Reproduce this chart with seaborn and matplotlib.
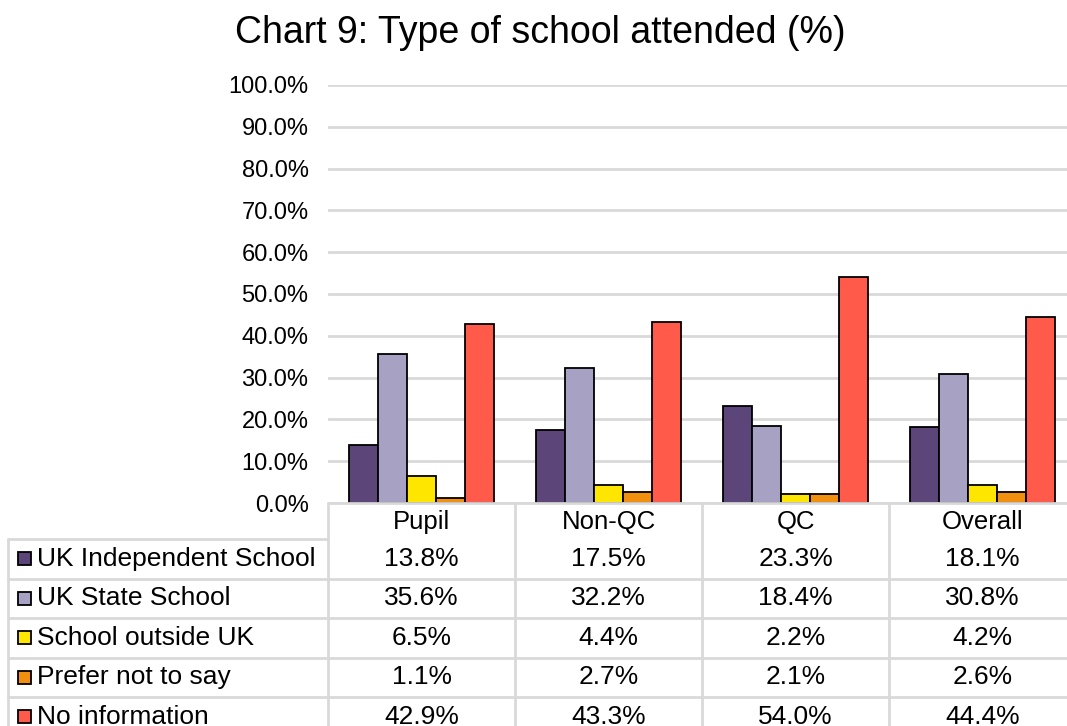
import numpy as np
import pandas as pd
import seaborn as sns
import matplotlib.pyplot as plt
import matplotlib.transforms as mtransforms
from matplotlib.lines import Line2D
from matplotlib.patches import Rectangle
from matplotlib.ticker import PercentFormatter

# Chart data (values in %)
groups = ['Pupil', 'Non-QC', 'QC', 'Overall']
series = ['UK Independent School', 'UK State School', 'School outside UK',
          'Prefer not to say', 'No information']
independent = [13.8, 17.5, 23.3, 18.1]
state = [35.6, 32.2, 18.4, 30.8]
outside_uk = [6.5, 4.4, 2.2, 4.2]
prefer_not = [1.1, 2.7, 2.1, 2.6]
no_info = [42.9, 43.3, 54.0, 44.4]
colors = ['#5B4579', '#A7A1C4', '#FFE600', '#F0900E', '#FF5A4A']

values = [independent, state, outside_uk, prefer_not, no_info]
df = pd.DataFrame([
    {'group': g, 'series': s, 'value': v[i] / 100}
    for s, v in zip(series, values)
    for i, g in enumerate(groups)
])

sns.set_theme(style='white')
plt.rcParams['font.family'] = ['Liberation Sans', 'DejaVu Sans']

W, H = 1067, 726
fig = plt.figure(figsize=(W / 100, H / 100), dpi=100)
ax_left, ax_bottom, ax_top, ax_right = 328, 503, 85, 1076
ax = fig.add_axes([ax_left / W, 1 - ax_bottom / H,
                   (ax_right - ax_left) / W, (ax_bottom - ax_top) / H])

sns.barplot(data=df, x='group', y='value', hue='series', palette=colors,
            saturation=1, width=0.78, edgecolor='black', linewidth=1.3,
            ax=ax, legend=False)

ax.set_xlim(-0.5, len(groups) - 0.5)
ax.set_ylim(0, 1.0)
ax.set_yticks(np.arange(0, 1.01, 0.1))
ax.yaxis.set_major_formatter(PercentFormatter(1.0, decimals=1))
ax.tick_params(axis='y', length=0, pad=14, labelsize=17, labelcolor='black')
ax.tick_params(axis='x', length=0, pad=5, labelsize=18.5, labelcolor='black')
ax.set_xlabel('')
ax.set_ylabel('')
ax.yaxis.grid(True, color='#D9D9D9', linewidth=2)
ax.set_axisbelow(True)
for sp in ax.spines.values():
    sp.set_visible(False)

fig.text(540 / W, 1 - 33 / H, 'Chart 9: Type of school attended (%)',
         ha='center', va='center', fontsize=27, color='black')

# Data table below the chart
line_kw = dict(color='#D9D9D9', linewidth=2)
blend = mtransforms.blended_transform_factory(ax.transData, fig.transFigure)
for xb in np.arange(-0.5, len(groups), 1.0):
    fig.add_artist(Line2D([xb, xb], [1 - ax_bottom / H, 0], transform=blend, **line_kw))
fig.add_artist(Line2D([ax_left / W, 1], [1 - ax_bottom / H] * 2, **line_kw))

row_tops = [539, 578.5, 618, 657.5, 697]
row_h = 39.3
label_left = 8
fig.add_artist(Line2D([label_left / W] * 2, [1 - row_tops[0] / H, 0], **line_kw))
fig.add_artist(Line2D([label_left / W, ax_left / W], [1 - row_tops[0] / H] * 2, **line_kw))
for i, (name, vals, col) in enumerate(zip(series, values, colors)):
    top = row_tops[i]
    yc = 1 - (top + row_h / 2) / H
    if i > 0:
        fig.add_artist(Line2D([label_left / W, 1], [1 - top / H] * 2, **line_kw))
    fig.add_artist(Rectangle((18 / W, yc - 6.5 / H), 13 / W, 13 / H,
                             facecolor=col, edgecolor='black', linewidth=1.3,
                             transform=fig.transFigure))
    fig.text(37 / W, yc, name, ha='left', va='center', fontsize=19, color='black')
    for j, v in enumerate(vals):
        fig.text(j, yc, f'{v:.1f}%', transform=blend, ha='center', va='center',
                 fontsize=19, color='black')

fig.savefig('out.png', dpi=100)
